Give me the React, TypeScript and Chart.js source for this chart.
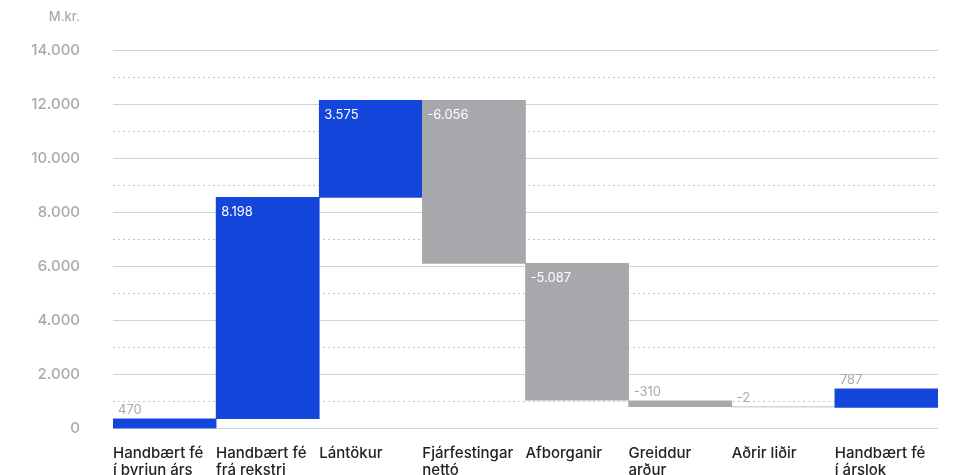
import React, { useEffect, useRef } from "react";
import { Chart, registerables } from "chart.js";

Chart.register(...registerables);

const categories: string[][] = [
  ["Handbært fé", "í byrjun árs"],
  ["Handbært fé", "frá rekstri"],
  ["Lántökur"],
  ["Fjárfestingar", "nettó"],
  ["Afborganir"],
  ["Greiddur", "arður"],
  ["Aðrir liðir"],
  ["Handbært fé", "í árslok"],
];
const valueLabels = ["470", "8.198", "3.575", "-6.056", "-5.087", "-310", "-2", "787"];
const barStarts = [0, 360, 8550, 6110, 1050, 810, 800, 780];
const barEnds = [360, 8550, 12140, 12140, 6110, 1020, 802, 1465];
const isPositive = [true, true, true, false, false, false, false, true];
const yTicks = [0, 2000, 4000, 6000, 8000, 10000, 12000, 14000];
const yMinorTicks = [1000, 3000, 5000, 7000, 9000, 11000, 13000];
const unitLabel = "M.kr.";

const BLUE = "#1546db";
const GRAY = "#a7a8ab";
const FONT = "Inter, 'Noto Sans', sans-serif";

const fmt = (v: number) => v.toLocaleString("de-DE");

const labelPlugin = {
  id: "valueLabels",
  afterDatasetsDraw(chart: any) {
    const ctx = chart.ctx;
    const meta = chart.getDatasetMeta(0);
    ctx.save();
    ctx.font = `400 13px ${FONT}`;
    ctx.textAlign = "left";
    ctx.textBaseline = "middle";
    meta.data.forEach((el: any, i: number) => {
      const top = Math.min(el.y, el.base);
      const bottom = Math.max(el.y, el.base);
      const left = el.x - el.width / 2;
      const inside = bottom - top > 30;
      ctx.fillStyle = inside ? "#ffffff" : "#a9a9a9";
      const y = inside ? top + 15 : top - 9;
      ctx.fillText(valueLabels[i], left + 5, y);
    });
    ctx.restore();
  },
  afterDraw(chart: any) {
    const ctx = chart.ctx;
    const ys = chart.scales.y;
    ctx.save();
    ctx.font = `500 13px ${FONT}`;
    ctx.fillStyle = "#a9a9a9";
    ctx.textAlign = "right";
    ctx.textBaseline = "middle";
    ctx.fillText(unitLabel, ys.right - 33, ys.getPixelForValue(14000) - 33);
    ctx.restore();
  },
};

export default function App() {
  const ref = useRef<HTMLCanvasElement | null>(null);
  useEffect(() => {
    if (!ref.current) return;
    const chart = new Chart(ref.current, {
      type: "bar",
      data: {
        labels: categories,
        datasets: [
          {
            data: barStarts.map((s, i) => [s, barEnds[i]]),
            backgroundColor: isPositive.map((p) => (p ? BLUE : GRAY)),
            borderWidth: 0,
            barPercentage: 1,
            categoryPercentage: 1,
          },
        ],
      },
      options: {
        animation: false,
        responsive: true,
        maintainAspectRatio: false,
        layout: { padding: { top: 30.5, right: 7, left: 0, bottom: 0 } },
        plugins: { legend: { display: false }, tooltip: { enabled: false } },
        scales: {
          x: {
            grid: { display: false },
            border: { display: false },
            afterFit: (s: any) => {
              s.paddingRight = 0;
              s.paddingLeft = 0;
            },
            ticks: {
              color: "#222222",
              font: { family: FONT, size: 15, weight: 500, lineHeight: 1.15 },
              padding: 8,
              labelOffset: -51.6,
              align: "start",
              maxRotation: 0,
              autoSkip: false,
            },
          },
          y2: {
            position: "left",
            min: 0,
            max: 14000,
            afterBuildTicks: (s: any) => {
              s.ticks = yMinorTicks.map((v) => ({ value: v }));
            },
            afterFit: (s: any) => {
              s.width = 0;
            },
            ticks: { display: false },
            grid: { color: "#c4c4c4", lineWidth: 1, drawTicks: false },
            border: { display: false, dash: [2, 3] },
          },
          y: {
            position: "left",
            min: 0,
            max: 14000,
            afterBuildTicks: (s: any) => {
              s.ticks = yTicks.map((v) => ({ value: v }));
            },
            afterFit: (s: any) => {
              s.width = 105;
            },
            ticks: {
              color: "#a9a9a9",
              font: { family: FONT, size: 15, weight: 500 },
              padding: 33,
              callback: (v: any) => fmt(Number(v)),
            },
            grid: { color: "#d2d2d2", lineWidth: 1, drawTicks: false },
            border: { display: false },
          },
        },
      },
      plugins: [labelPlugin],
    } as any);
    return () => chart.destroy();
  }, []);
  return (
    <div style={{ position: "relative", width: "100%", height: "479px" }}>
      <canvas ref={ref} />
    </div>
  );
}
